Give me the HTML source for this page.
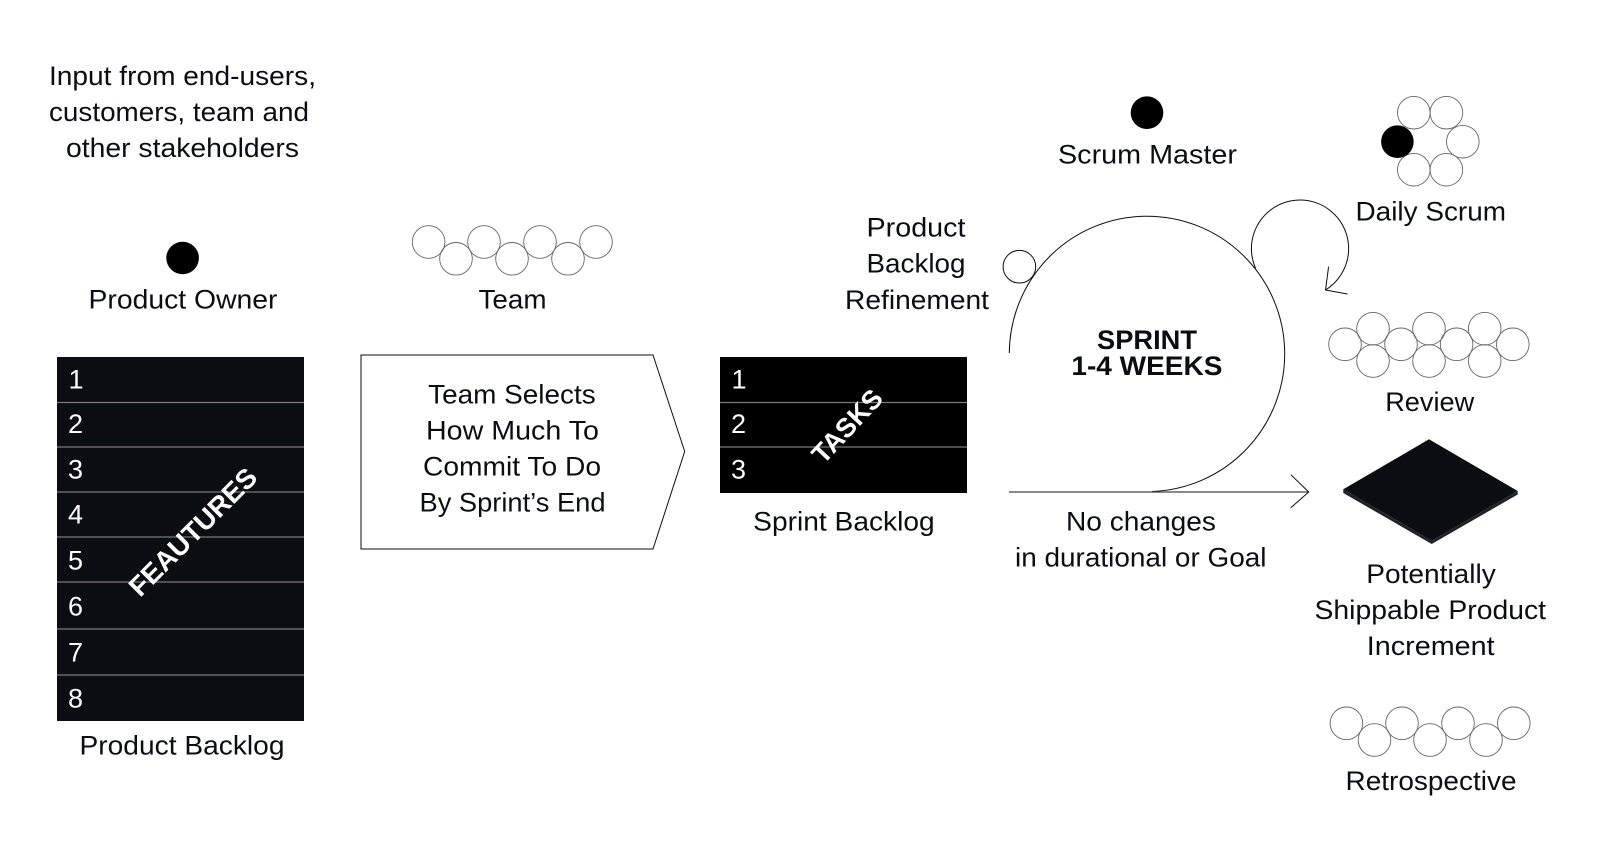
<!DOCTYPE html>
<html lang="en">
<head>
<meta charset="utf-8">
<title>Scrum diagram</title>
<style>
html,body{margin:0;padding:0;background:#fff;width:1600px;height:846px;overflow:hidden}
svg{display:block}
text{font-family:"Liberation Sans",sans-serif;font-size:27px;fill:#0a0d12}
.n{fill:#fff}
.b{font-weight:700}
.c{fill:none;stroke:#666;stroke-width:.9}
.l{stroke:#7a7a7a;stroke-width:1.3}
.k{fill:none;stroke:#0a0d12;stroke-width:1}
</style>
</head>
<body>
<svg width="1600" height="846" viewBox="0 0 1600 846" xmlns="http://www.w3.org/2000/svg">
<rect width="1600" height="846" fill="#fff"/>

<text x="49" y="85" textLength="267" lengthAdjust="spacingAndGlyphs">Input from end-users,</text>
<text x="49" y="121" textLength="260" lengthAdjust="spacingAndGlyphs">customers, team and</text>
<text x="66" y="157" textLength="233" lengthAdjust="spacingAndGlyphs">other stakeholders</text>

<circle cx="182.6" cy="258" r="16.3" fill="#000"/>
<text x="88.5" y="308.6" textLength="189" lengthAdjust="spacingAndGlyphs">Product Owner</text>

<g class="c">
<circle cx="428.6" cy="242" r="16.3"/><circle cx="484" cy="242" r="16.3"/><circle cx="540" cy="242" r="16.3"/><circle cx="596" cy="242" r="16.3"/>
<circle cx="456" cy="258.8" r="16.3"/><circle cx="512" cy="258.8" r="16.3"/><circle cx="568" cy="258.8" r="16.3"/>
</g>
<text x="478.5" y="308.6" textLength="68" lengthAdjust="spacingAndGlyphs">Team</text>

<rect x="57" y="357" width="247" height="364" fill="#0a0d12"/>
<g class="l">
<line x1="57" x2="304" y1="402.5" y2="402.5"/><line x1="57" x2="304" y1="447" y2="447"/>
<line x1="57" x2="304" y1="492" y2="492"/><line x1="57" x2="304" y1="537" y2="537"/>
<line x1="57" x2="304" y1="582" y2="582"/><line x1="57" x2="304" y1="629" y2="629"/>
<line x1="57" x2="304" y1="675" y2="675"/>
</g>
<text class="n" x="68.5" y="388.3">1</text><text class="n" x="68" y="433">2</text>
<text class="n" x="68" y="478.7">3</text><text class="n" x="68" y="523.3">4</text>
<text class="n" x="68" y="569.7">5</text><text class="n" x="68" y="615.7">6</text>
<text class="n" x="68" y="661.3">7</text><text class="n" x="68" y="707.3">8</text>
<text class="n b" transform="translate(192.5 531.5) rotate(-45)" x="0" y="10" text-anchor="middle" style="font-size:27.5px">FEAUTURES</text>
<text x="79.5" y="754.7" textLength="205" lengthAdjust="spacingAndGlyphs">Product Backlog</text>

<path class="k" d="M361 355H653L684.7 451.5L653 549H361Z"/>
<text x="428.2" y="403.3" textLength="167.5" lengthAdjust="spacingAndGlyphs">Team Selects</text>
<text x="426" y="439.5" textLength="173" lengthAdjust="spacingAndGlyphs">How Much To</text>
<text x="423" y="475.3" textLength="178" lengthAdjust="spacingAndGlyphs">Commit To Do</text>
<text x="419.5" y="511.3" textLength="186" lengthAdjust="spacingAndGlyphs">By Sprint’s End</text>

<rect x="720" y="357" width="247" height="136" fill="#000"/>
<g class="l">
<line x1="720" x2="967" y1="402.5" y2="402.5"/><line x1="720" x2="967" y1="447" y2="447"/>
</g>
<text class="n" x="731.5" y="388.3">1</text><text class="n" x="731" y="433">2</text><text class="n" x="731" y="478.7">3</text>
<text class="n b" transform="translate(847 426) rotate(-47)" x="0" y="9.5" text-anchor="middle" style="font-size:27px">TASKS</text>
<text x="753.2" y="530.6" textLength="181.5" lengthAdjust="spacingAndGlyphs">Sprint Backlog</text>

<text x="866.5" y="236.7" textLength="99" lengthAdjust="spacingAndGlyphs">Product</text>
<text x="866.5" y="272.7" textLength="99" lengthAdjust="spacingAndGlyphs">Backlog</text>
<text x="845" y="309" textLength="144" lengthAdjust="spacingAndGlyphs">Refinement</text>
<circle class="k" cx="1019.4" cy="266.7" r="16.3"/>

<circle cx="1147" cy="112.7" r="16.3" fill="#000"/>
<text x="1058" y="163.3" textLength="179" lengthAdjust="spacingAndGlyphs">Scrum Master</text>

<path class="k" d="M1009.3 353A137.7 137.7 0 1 1 1152 491.5"/>
<line x1="1009" y1="492" x2="1308.5" y2="492" stroke="#444" stroke-width="1.3"/>
<path class="k" d="M1290.8 474.7L1308.7 492L1290.8 507.7"/>
<path class="k" d="M1255.6 268.3A48.6 48.6 0 1 1 1325.5 290"/>
<path class="k" d="M1328.6 266.7L1325.5 290L1347.5 294"/>

<text class="b" x="1097" y="349" textLength="100" lengthAdjust="spacingAndGlyphs">SPRINT</text>
<text class="b" x="1071.4" y="375" textLength="151" lengthAdjust="spacingAndGlyphs">1-4 WEEKS</text>

<g class="c">
<circle cx="1413.8" cy="112.7" r="16.3"/><circle cx="1446.4" cy="112.7" r="16.3"/>
<circle cx="1462.8" cy="141.7" r="16.3"/>
<circle cx="1413.8" cy="169.7" r="16.3"/><circle cx="1446.4" cy="169.7" r="16.3"/>
</g>
<circle cx="1397.4" cy="141.7" r="16.3" fill="#000"/>
<text x="1355.5" y="220.3" textLength="150.5" lengthAdjust="spacingAndGlyphs">Daily Scrum</text>

<g class="c">
<circle cx="1373" cy="328.7" r="16.3"/><circle cx="1429" cy="328.7" r="16.3"/><circle cx="1484.7" cy="328.7" r="16.3"/>
<circle cx="1345" cy="344.3" r="16.3"/><circle cx="1401" cy="344.3" r="16.3"/><circle cx="1456.6" cy="344.3" r="16.3"/><circle cx="1512.8" cy="344.3" r="16.3"/>
<circle cx="1373" cy="361" r="16.3"/><circle cx="1429" cy="361" r="16.3"/><circle cx="1484.7" cy="361" r="16.3"/>
</g>
<text x="1385.2" y="411" textLength="89" lengthAdjust="spacingAndGlyphs">Review</text>

<path d="M1343.3 489.3V493L1431.7 544L1517.7 494.5V491L1431.7 540.7Z" fill="#202225"/>
<path d="M1429 439.3L1517.7 491L1431.7 540.7L1343.3 489.3Z" fill="#0a0d12"/>

<text x="1066" y="530.6" textLength="150" lengthAdjust="spacingAndGlyphs">No changes</text>
<text x="1015" y="566.6" textLength="251.5" lengthAdjust="spacingAndGlyphs">in durational or Goal</text>

<text x="1366.3" y="583" textLength="129.5" lengthAdjust="spacingAndGlyphs">Potentially</text>
<text x="1314.5" y="619" textLength="231.5" lengthAdjust="spacingAndGlyphs">Shippable Product</text>
<text x="1366.8" y="655" textLength="127.8" lengthAdjust="spacingAndGlyphs">Increment</text>

<g class="c">
<circle cx="1346.4" cy="723.3" r="16.3"/><circle cx="1402" cy="723.3" r="16.3"/><circle cx="1458" cy="723.3" r="16.3"/><circle cx="1513.8" cy="723.3" r="16.3"/>
<circle cx="1374.5" cy="740" r="16.3"/><circle cx="1430" cy="740" r="16.3"/><circle cx="1486" cy="740" r="16.3"/>
</g>
<text x="1345.5" y="790" textLength="171" lengthAdjust="spacingAndGlyphs">Retrospective</text>
</svg>
</body>
</html>
